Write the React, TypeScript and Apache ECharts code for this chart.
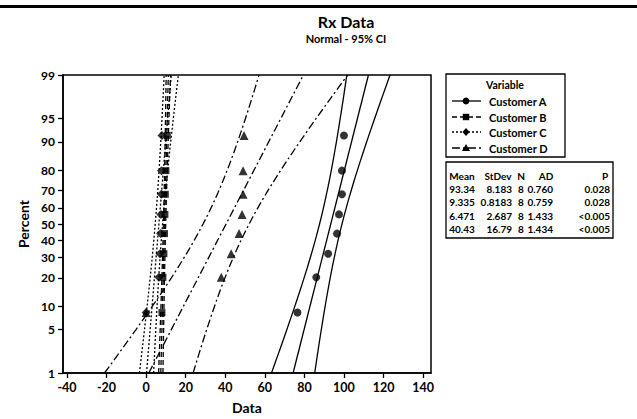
import React, { useEffect, useRef } from "react";
import * as echarts from "echarts";

const customers = ["Customer A", "Customer B", "Customer C", "Customer D"];
const customerA = [76.5, 86, 92, 96.5, 97.5, 99, 99, 100];
const customerB = [8, 8.5, 9, 9.3, 9.5, 9.7, 10, 10.7];
const customerC = [0, 6.5, 7, 7.3, 7.5, 7.7, 7.8, 8];
const customerD = [0, 38, 43, 47, 48.5, 49, 49, 49.5];
const meanLabels = ["93.34", "9.335", "6.471", "40.43"];
const stdevLabels = ["8.183", "0.8183", "2.687", "16.79"];
const nLabels = ["8", "8", "8", "8"];
const adLabels = ["0.760", "0.759", "1.433", "1.434"];
const pLabels = ["0.028", "0.028", "<0.005", "<0.005"];
const percentTicks = [1, 5, 10, 20, 30, 40, 50, 60, 70, 80, 90, 95, 99];
const dataTicks = [-40, -20, 0, 20, 40, 60, 80, 100, 120, 140];

const FONT = "Lato";

function normInv(p: number): number {
  const a = [-3.969683028665376e1, 2.209460984245205e2, -2.759285104469687e2, 1.38357751867269e2, -3.066479806614716e1, 2.506628277459239];
  const b = [-5.447609879822406e1, 1.615858368580409e2, -1.556989798598866e2, 6.680131188771972e1, -1.328068155288572e1];
  const c = [-7.784894002430293e-3, -3.223964580411365e-1, -2.400758277161838, -2.549732539343734, 4.374664141464968, 2.938163982698783];
  const d = [7.784695709041462e-3, 3.224671290700398e-1, 2.445134137142996, 3.754408661907416];
  const pl = 0.02425;
  if (p < pl) {
    const q = Math.sqrt(-2 * Math.log(p));
    return (((((c[0] * q + c[1]) * q + c[2]) * q + c[3]) * q + c[4]) * q + c[5]) / ((((d[0] * q + d[1]) * q + d[2]) * q + d[3]) * q + 1);
  }
  if (p > 1 - pl) {
    const q = Math.sqrt(-2 * Math.log(1 - p));
    return -(((((c[0] * q + c[1]) * q + c[2]) * q + c[3]) * q + c[4]) * q + c[5]) / ((((d[0] * q + d[1]) * q + d[2]) * q + d[3]) * q + 1);
  }
  const q = p - 0.5;
  const r = q * q;
  return (((((a[0] * r + a[1]) * r + a[2]) * r + a[3]) * r + a[4]) * r + a[5]) * q / (((((b[0] * r + b[1]) * r + b[2]) * r + b[3]) * r + b[4]) * r + 1);
}

export default function App() {
  const ref = useRef<HTMLDivElement>(null);
  useEffect(() => {
    if (!ref.current) return;
    const chart = echarts.init(ref.current, null, { renderer: "svg" });
    const datasets = [customerA, customerB, customerC, customerD];
    const symbols = ["circle", "rect", "diamond", "triangle"];
    const symbolSizes = [8, 7, 9, 9];
    const dashes: any[] = ["solid", [5, 3], [2, 2], [8, 3, 2, 3]];
    const zLo = normInv(0.01);
    const zHi = normInv(0.99);
    const series: any[] = [];
    datasets.forEach((vals, k) => {
      const n = vals.length;
      const sorted = [...vals].sort((a, b) => a - b);
      const m = parseFloat(meanLabels[k]);
      const s = parseFloat(stdevLabels[k]);
      const pts = sorted.map((v, i) => [v, normInv((i + 1 - 0.3) / (n + 0.4))]);
      series.push({
        type: "scatter",
        name: customers[k],
        data: pts,
        symbol: symbols[k],
        symbolSize: symbolSizes[k],
        itemStyle: { color: "#000" },
        z: 5,
      });
      const lineStyle = { color: "#000", width: 1.3, type: dashes[k] };
      series.push({
        type: "line",
        data: [[m + s * zLo, zLo], [m + s * zHi, zHi]],
        showSymbol: false,
        lineStyle,
        silent: true,
      });
      const steps = 48;
      const lower: number[][] = [];
      const upper: number[][] = [];
      for (let i = 0; i <= steps; i++) {
        const z = zLo + ((zHi - zLo) * i) / steps;
        const hw = 1.96 * s * Math.sqrt(1 / n + (z * z) / (2 * n));
        lower.push([m + z * s - hw, z]);
        upper.push([m + z * s + hw, z]);
      }
      series.push({ type: "line", data: lower, showSymbol: false, lineStyle, silent: true });
      series.push({ type: "line", data: upper, showSymbol: false, lineStyle, silent: true });
    });

    const zTicks = percentTicks.map((p) => normInv(p / 100));
    const graphic: any[] = [];
    graphic.push({ type: "rect", shape: { x: 0, y: 5, width: 637, height: 3 }, style: { fill: "#000" } });
    // legend
    const lg: any[] = [];
    lg.push({ type: "rect", shape: { x: 446, y: 74, width: 119, height: 83 }, style: { fill: "#fff", stroke: "#000", lineWidth: 1.3 } });
    lg.push({ type: "text", x: 505, y: 85, style: { text: "Variable", font: `bold 10.5px ${FONT}`, fill: "#000", align: "center", verticalAlign: "middle" } });
    const rowY = [101, 117, 132, 148];
    const dashArr: any[] = [null, [5, 3], [2, 2], [8, 3, 2, 3]];
    customers.forEach((name, k) => {
      const y = rowY[k];
      lg.push({ type: "line", shape: { x1: 452, y1: y, x2: 481, y2: y }, style: { stroke: "#000", lineWidth: 1.3, lineDash: dashArr[k] } });
      const cx = 466;
      if (k === 0) lg.push({ type: "circle", shape: { cx, cy: y, r: 3.4 }, style: { fill: "#000" } });
      if (k === 1) lg.push({ type: "rect", shape: { x: cx - 3.2, y: y - 3.2, width: 6.4, height: 6.4 }, style: { fill: "#000" } });
      if (k === 2) lg.push({ type: "polygon", shape: { points: [[cx, y - 4], [cx + 3.5, y], [cx, y + 4], [cx - 3.5, y]] }, style: { fill: "#000" } });
      if (k === 3) lg.push({ type: "polygon", shape: { points: [[cx, y - 4], [cx + 4, y + 3], [cx - 4, y + 3]] }, style: { fill: "#000" } });
      lg.push({ type: "text", x: 489, y, style: { text: name, font: `bold 11px ${FONT}`, fill: "#000", align: "left", verticalAlign: "middle" } });
    });
    graphic.push({ type: "group", children: lg });
    // table
    const tb: any[] = [];
    tb.push({ type: "rect", shape: { x: 446, y: 162, width: 167, height: 76 }, style: { fill: "#fff", stroke: "#000", lineWidth: 1.3 } });
    const cols = [
      { head: "Mean", vals: meanLabels, x: 462, align: "center", hx: 462 },
      { head: "StDev", vals: stdevLabels, x: 512, align: "right", hx: 498 },
      { head: "N", vals: nLabels, x: 521, align: "center", hx: 521 },
      { head: "AD", vals: adLabels, x: 553, align: "right", hx: 546 },
      { head: "P", vals: pLabels, x: 610, align: "right", hx: 605 },
    ];
    const tRows = [189, 202, 216, 229];
    cols.forEach((c) => {
      tb.push({ type: "text", x: c.hx, y: 176, style: { text: c.head, font: `bold 10px ${FONT}`, fill: "#000", align: "center", verticalAlign: "middle" } });
      c.vals.forEach((v, i) => {
        tb.push({ type: "text", x: c.x, y: tRows[i], style: { text: v, font: `bold 10px ${FONT}`, fill: "#000", align: c.align, verticalAlign: "middle" } });
      });
    });
    graphic.push({ type: "group", children: tb });

    chart.setOption({
      animation: false,
      backgroundColor: "#fff",
      title: {
        text: "Rx Data",
        subtext: "Normal - 95% CI",
        left: 341,
        top: 8,
        textAlign: "center",
        itemGap: 4,
        textStyle: { fontFamily: FONT, fontWeight: "bold", fontSize: 16, color: "#000" },
        subtextStyle: { fontFamily: FONT, fontWeight: "bold", fontSize: 11, color: "#000" },
      },
      grid: { left: 63, top: 75, right: 206, bottom: 46, show: true, borderColor: "#000", borderWidth: 1.5, containLabel: false },
      xAxis: {
        type: "value",
        min: -42,
        max: 144,
        name: "Data",
        nameLocation: "middle",
        nameGap: 27,
        nameTextStyle: { fontFamily: FONT, fontWeight: "bold", fontSize: 14, color: "#000" },
        axisLine: { show: true, onZero: false, lineStyle: { color: "#000", width: 1.5 } },
        axisTick: { show: true, length: 5, customValues: dataTicks, lineStyle: { color: "#000", width: 1.3 } },
        axisLabel: { customValues: dataTicks, margin: 8, fontFamily: FONT, fontWeight: "bold", fontSize: 12.5, color: "#000" },
        splitLine: { show: false },
      },
      yAxis: {
        type: "value",
        min: zLo,
        max: zHi,
        name: "Percent",
        nameLocation: "middle",
        nameRotate: 90,
        nameGap: 30,
        nameTextStyle: { fontFamily: FONT, fontWeight: "bold", fontSize: 14, color: "#000" },
        axisLine: { show: true, onZero: false, lineStyle: { color: "#000", width: 1.5 } },
        axisTick: { show: true, length: 5, customValues: zTicks, lineStyle: { color: "#000", width: 1.3 } },
        axisLabel: {
          customValues: zTicks,
          margin: 8,
          fontFamily: FONT,
          fontWeight: "bold",
          fontSize: 12,
          color: "#000",
          formatter: (v: number) => {
            let best = percentTicks[0];
            let bd = Infinity;
            percentTicks.forEach((p, i) => {
              const dd = Math.abs(zTicks[i] - v);
              if (dd < bd) { bd = dd; best = p; }
            });
            return String(best);
          },
        },
        splitLine: { show: false },
      },
      series,
      graphic,
    });
    return () => chart.dispose();
  }, []);
  return <div ref={ref} style={{ position: "fixed", left: 0, top: 0, width: 637, height: 419 }} />;
}
